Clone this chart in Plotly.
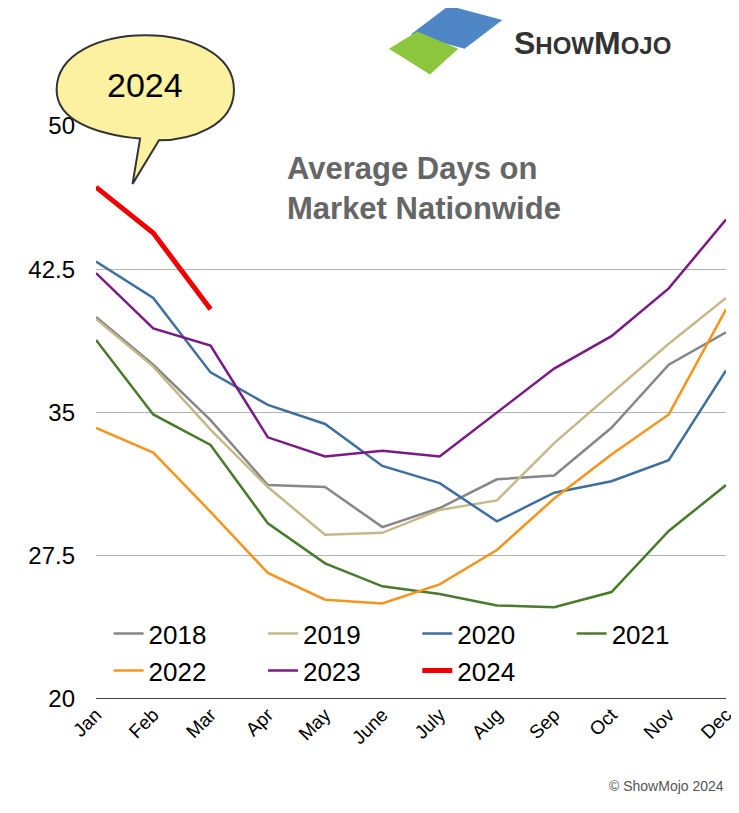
import plotly.graph_objects as go

months = ["Jan","Feb","Mar","Apr","May","June","July","Aug","Sep","Oct","Nov","Dec"]
y2018 = [40.0,37.5,34.6,31.2,31.1,29.0,30.0,31.5,31.7,34.2,37.5,39.2]
y2019 = [39.9,37.4,34.1,31.1,28.6,28.7,29.9,30.4,33.4,36.0,38.6,41.0]
y2020 = [42.9,41.0,37.1,35.4,34.4,32.2,31.3,29.3,30.8,31.4,32.5,37.2]
y2021 = [38.8,34.9,33.3,29.2,27.1,25.9,25.5,24.9,24.8,25.6,28.8,31.2]
y2022 = [34.2,32.9,29.8,26.6,25.2,25.0,26.0,27.8,30.5,32.8,34.9,40.4]
y2023 = [42.3,39.4,38.5,33.7,32.7,33.0,32.7,35.0,37.3,39.0,41.5,45.1]
y2024 = [46.8,44.4,40.4]
yticks = [20,27.5,35,42.5,50]

series = [("2018",y2018,"#878787",2.5),("2019",y2019,"#c5b98a",2.5),
          ("2020",y2020,"#3e6f9e",2.5),("2021",y2021,"#4a7a2c",2.5),
          ("2022",y2022,"#f7941d",2.5),("2023",y2023,"#7b1a86",2.5),
          ("2024",y2024,"#f00000",5)]

fig = go.Figure()
for name, ys, c, w in series:
    fig.add_trace(go.Scatter(x=months[:len(ys)], y=ys, name=name, mode="lines",
                             line=dict(color=c, width=w)))

fig.update_layout(
    width=739, height=813, plot_bgcolor="white", paper_bgcolor="white",
    margin=dict(l=88, r=11, t=118, b=122),
    font=dict(family="Liberation Sans, Arial", color="black"),
    xaxis=dict(range=[0,11], tickangle=-45, tickfont=dict(size=19), showgrid=False,
               showline=False, ticks=""),
    yaxis=dict(range=[20,50], tickvals=yticks, ticktext=["20","27.5","35","42.5","50"],
               tickfont=dict(size=24), gridcolor="#b5b5b5", gridwidth=1, zeroline=False,
               ticks="", ticklabelstandoff=20),
    legend=dict(orientation="h", x=0.02, y=0.155, xanchor="left", yanchor="top",
                entrywidthmode="fraction", entrywidth=0.245, font=dict(size=26),
                bgcolor="rgba(0,0,0,0)", traceorder="normal", tracegroupgap=0),
    showlegend=True,
)
fig.add_shape(type="line", xref="paper", yref="y", x0=0, x1=1, y0=20, y1=20,
              line=dict(color="black", width=1.5))
fig.add_annotation(xref="paper", yref="paper", x=0.3, y=0.96, xanchor="left", yanchor="top",
                   text="<b>Average Days on<br>Market Nationwide</b>", showarrow=False,
                   align="left", font=dict(size=31, color="#666666"))
fig.add_shape(type="path", xref="paper", yref="paper",
              path="M -0.0625 1.063 C -0.0625 1.19, 0.219 1.19, 0.219 1.063 C 0.219 1.0, 0.15 0.975, 0.1 0.975 L 0.058 0.899 L 0.07 0.978 C 0.0 0.985, -0.0625 1.01, -0.0625 1.063 Z",
              fillcolor="#fbf1a0", line=dict(color="#333333", width=2), layer="above")
fig.add_annotation(xref="paper", yref="paper", x=0.078, y=1.072, xanchor="center", yanchor="middle",
                   text="2024", showarrow=False, font=dict(size=34, color="black"))
fig.add_shape(type="path", xref="paper", yref="paper",
              path="M 0.50 1.16 L 0.56 1.21 L 0.645 1.185 L 0.585 1.135 Z",
              fillcolor="#4f86c6", line=dict(width=0))
fig.add_shape(type="path", xref="paper", yref="paper",
              path="M 0.465 1.135 L 0.51 1.165 L 0.575 1.135 L 0.53 1.09 Z",
              fillcolor="#8cc63f", line=dict(width=0))
fig.add_annotation(xref="paper", yref="paper", x=0.66, y=1.145, xanchor="left", yanchor="middle",
                   text="<b>S<span style='font-size:24px'>HOW</span>M<span style='font-size:24px'>OJO</span></b>",
                   showarrow=False, font=dict(size=32, color="#333333"))
fig.add_annotation(xref="paper", yref="paper", x=1.0, y=-0.17, xanchor="right",
                   text="© ShowMojo 2024", showarrow=False, font=dict(size=14, color="#555555"))
fig.write_html("out.html")
